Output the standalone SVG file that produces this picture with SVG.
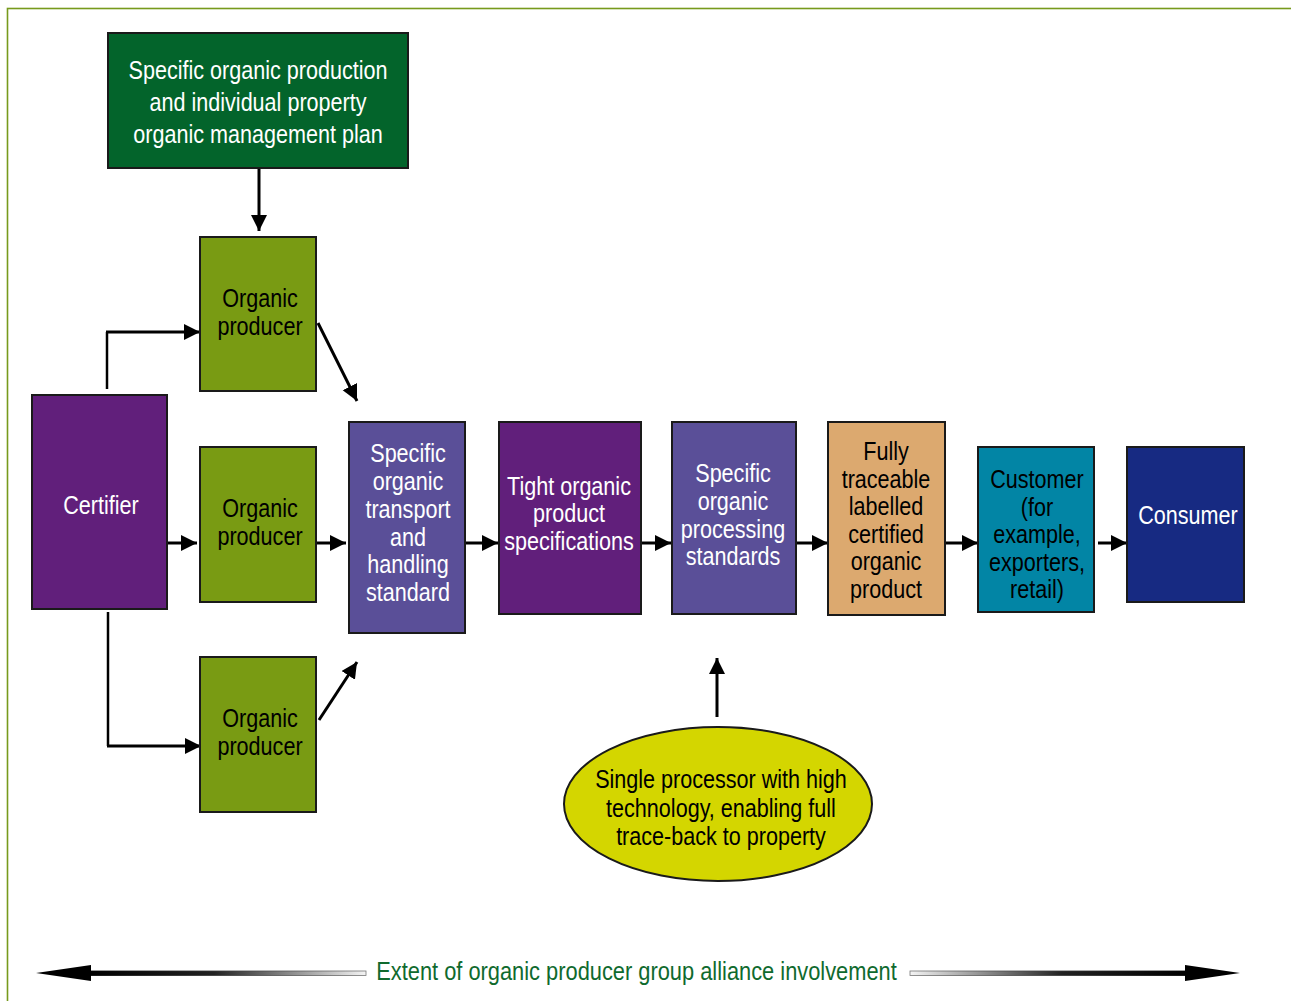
<svg xmlns="http://www.w3.org/2000/svg" width="1291" height="1001" viewBox="0 0 1291 1001">
<defs>
<style>
.t{font-family:"Liberation Sans",Arial,sans-serif;font-size:26px;text-anchor:middle}
.w{fill:#ffffff}
.k{fill:#000000}
.box{stroke:#1a1a1a;stroke-width:2}
.c{fill:none;stroke:#000;stroke-width:3}
.c2{fill:none;stroke:#000;stroke-width:2.5}
</style>
<marker id="ah" markerUnits="userSpaceOnUse" markerWidth="17" markerHeight="17" refX="16" refY="8" orient="auto" viewBox="0 0 17 17">
<path d="M0,0 L16,8 L0,16 z" fill="#000"/>
</marker>
<linearGradient id="gl" x1="0" y1="0" x2="1" y2="0">
<stop offset="0" stop-color="#000"/><stop offset="0.45" stop-color="#222"/><stop offset="1" stop-color="#f4f4f4"/>
</linearGradient>
<linearGradient id="gls" x1="0" y1="0" x2="1" y2="0">
<stop offset="0" stop-color="#000"/><stop offset="1" stop-color="#777"/>
</linearGradient>
<linearGradient id="gr" x1="0" y1="0" x2="1" y2="0">
<stop offset="0" stop-color="#f4f4f4"/><stop offset="0.55" stop-color="#222"/><stop offset="1" stop-color="#000"/>
</linearGradient>
<linearGradient id="grs" x1="0" y1="0" x2="1" y2="0">
<stop offset="0" stop-color="#777"/><stop offset="1" stop-color="#000"/>
</linearGradient>
</defs>
<rect x="0" y="0" width="1291" height="1001" fill="#ffffff"/>
<rect x="7.5" y="8.5" width="1300" height="1010" fill="none" stroke="#779a1c" stroke-width="1.6"/>

<g id="connectors">
<path class="c" d="M259,168 L259,231" marker-end="url(#ah)"/>
<path class="c2" d="M107,389 L107,332"/>
<path class="c" d="M106,332 L200,332" marker-end="url(#ah)"/>
<path class="c" d="M318,323 L357,401" marker-end="url(#ah)"/>
<path class="c" d="M167,543 L197,543" marker-end="url(#ah)"/>
<path class="c" d="M316,543 L346,543" marker-end="url(#ah)"/>
<path class="c2" d="M108,612 L108,746"/>
<path class="c" d="M107,746 L201,746" marker-end="url(#ah)"/>
<path class="c" d="M319,720 L357,662" marker-end="url(#ah)"/>
<path class="c" d="M465,543 L498,543" marker-end="url(#ah)"/>
<path class="c" d="M641,543 L671,543" marker-end="url(#ah)"/>
<path class="c" d="M796,543 L828,543" marker-end="url(#ah)"/>
<path class="c" d="M945,543 L978,543" marker-end="url(#ah)"/>
<path class="c" d="M1098,543 L1127,543" marker-end="url(#ah)"/>
<path class="c" d="M717,717 L717,658" marker-end="url(#ah)"/>
</g>

<g id="plan">
<rect class="box" x="108" y="33" width="300" height="135" fill="#03642b"/>
<text class="t w" transform="translate(258 0) scale(0.83 1)"><tspan x="0" y="79">Specific organic production</tspan><tspan x="0" y="111">and individual property</tspan><tspan x="0" y="143">organic management plan</tspan></text>
</g>

<g id="producer1">
<rect class="box" x="200" y="237" width="116" height="154" fill="#799b13"/>
<text class="t k" transform="translate(260 0) scale(0.83 1)"><tspan x="0" y="307">Organic</tspan><tspan x="0" y="335">producer</tspan></text>
</g>

<g id="certifier">
<rect class="box" x="32" y="395" width="135" height="214" fill="#611f7b"/>
<text class="t w" transform="translate(101 0) scale(0.83 1)"><tspan x="0" y="514">Certifier</tspan></text>
</g>

<g id="producer2">
<rect class="box" x="200" y="447" width="116" height="155" fill="#799b13"/>
<text class="t k" transform="translate(260 0) scale(0.83 1)"><tspan x="0" y="517">Organic</tspan><tspan x="0" y="545">producer</tspan></text>
</g>

<g id="producer3">
<rect class="box" x="200" y="657" width="116" height="155" fill="#799b13"/>
<text class="t k" transform="translate(260 0) scale(0.83 1)"><tspan x="0" y="727">Organic</tspan><tspan x="0" y="755">producer</tspan></text>
</g>

<g id="transport">
<rect class="box" x="349" y="422" width="116" height="211" fill="#5a4f98"/>
<text class="t w" transform="translate(408 0) scale(0.83 1)"><tspan x="0" y="462">Specific</tspan><tspan x="0" y="490">organic</tspan><tspan x="0" y="518">transport</tspan><tspan x="0" y="546">and</tspan><tspan x="0" y="573">handling</tspan><tspan x="0" y="601">standard</tspan></text>
</g>

<g id="tight">
<rect class="box" x="499" y="422" width="142" height="192" fill="#611f7b"/>
<text class="t w" transform="translate(569 0) scale(0.83 1)"><tspan x="0" y="495">Tight organic</tspan><tspan x="0" y="522">product</tspan><tspan x="0" y="550">specifications</tspan></text>
</g>

<g id="processing">
<rect class="box" x="672" y="422" width="124" height="192" fill="#5a4f98"/>
<text class="t w" transform="translate(733 0) scale(0.83 1)"><tspan x="0" y="482">Specific</tspan><tspan x="0" y="510">organic</tspan><tspan x="0" y="538">processing</tspan><tspan x="0" y="565">standards</tspan></text>
</g>

<g id="fully">
<rect class="box" x="828" y="422" width="117" height="193" fill="#dca96f"/>
<text class="t k" transform="translate(886 0) scale(0.83 1)"><tspan x="0" y="460">Fully</tspan><tspan x="0" y="488">traceable</tspan><tspan x="0" y="515">labelled</tspan><tspan x="0" y="543">certified</tspan><tspan x="0" y="570">organic</tspan><tspan x="0" y="598">product</tspan></text>
</g>

<g id="customer">
<rect class="box" x="978" y="447" width="116" height="165" fill="#0285a5"/>
<text class="t k" transform="translate(1037 0) scale(0.83 1)"><tspan x="0" y="488">Customer</tspan><tspan x="0" y="516">(for</tspan><tspan x="0" y="543">example,</tspan><tspan x="0" y="571">exporters,</tspan><tspan x="0" y="598">retail)</tspan></text>
</g>

<g id="consumer">
<rect class="box" x="1127" y="447" width="117" height="155" fill="#172a82"/>
<text class="t w" transform="translate(1188 0) scale(0.83 1)"><tspan x="0" y="524">Consumer</tspan></text>
</g>

<g id="processor">
<ellipse cx="718" cy="804" rx="154" ry="77" fill="#d4d600" stroke="#1a1a1a" stroke-width="2"/>
<text class="t k" transform="translate(721 0) scale(0.83 1)"><tspan x="0" y="788">Single processor with high</tspan><tspan x="0" y="817">technology, enabling full</tspan><tspan x="0" y="845">trace-back to property</tspan></text>
</g>

<g id="extent">
<polygon points="36,973 91,965 91,981" fill="#000"/>
<rect x="90" y="971" width="276" height="4.5" fill="url(#gl)" stroke="url(#gls)" stroke-width="0.8"/>
<polygon points="1240,973 1185,965 1185,981" fill="#000"/>
<rect x="910" y="971" width="276" height="4.5" fill="url(#gr)" stroke="url(#grs)" stroke-width="0.8"/>
<text class="t" fill="#0f6a2e" transform="translate(636.5 0) scale(0.84 1)"><tspan x="0" y="980">Extent of organic producer group alliance involvement</tspan></text>
</g>
</svg>
